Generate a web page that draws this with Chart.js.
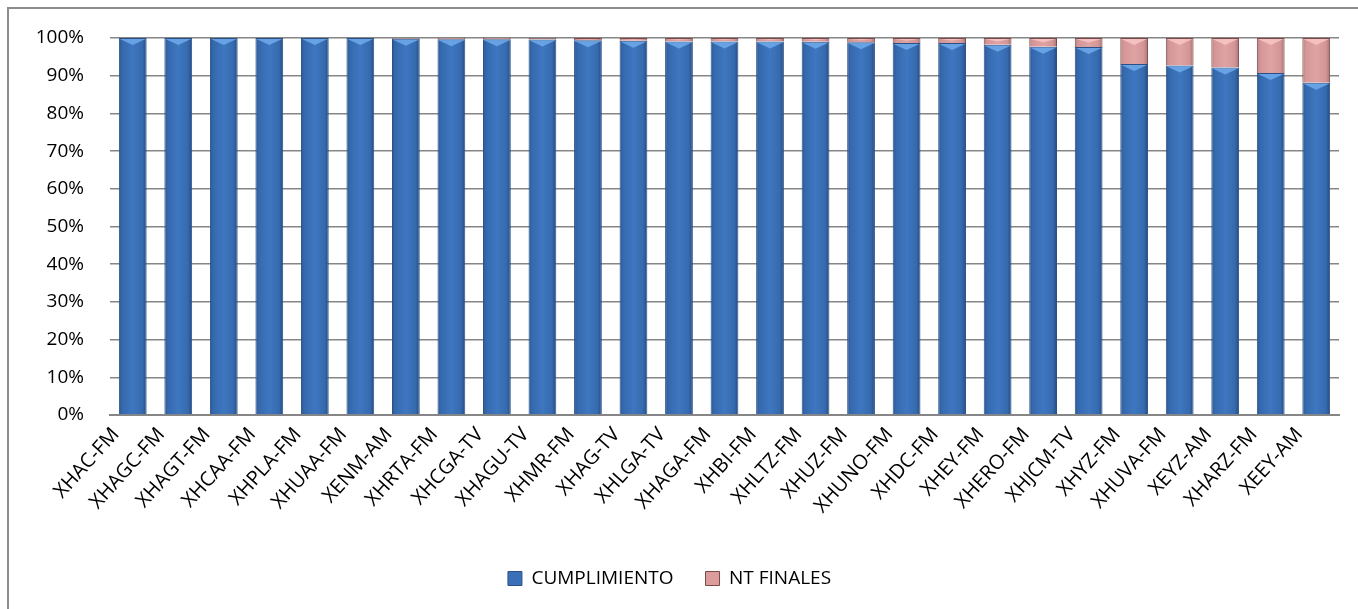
<!DOCTYPE html>
<html><head><meta charset="utf-8">
<script src="https://cdn.jsdelivr.net/npm/chart.js@4.4.1/dist/chart.umd.min.js"></script>
<style>
html,body{margin:0;padding:0;background:#fff;overflow:hidden;}
#wrap{position:absolute;left:7px;top:7px;width:1360px;height:620px;border-left:2px solid #8c8c8c;border-top:2px solid #8c8c8c;box-sizing:border-box;}
#c{position:absolute;left:0;top:0;}
</style></head><body>
<div id="wrap"></div>
<canvas id="c" width="1358" height="609"></canvas>
<script>
const categories = ["XHAC-FM","XHAGC-FM","XHAGT-FM","XHCAA-FM","XHPLA-FM","XHUAA-FM","XENM-AM","XHRTA-FM","XHCGA-TV","XHAGU-TV","XHMR-FM","XHAG-TV","XHLGA-TV","XHAGA-FM","XHBI-FM","XHLTZ-FM","XHUZ-FM","XHUNO-FM","XHDC-FM","XHEY-FM","XHERO-FM","XHJCM-TV","XHYZ-FM","XHUVA-FM","XEYZ-AM","XHARZ-FM","XEEY-AM"];
const cumplimiento = [100,100,100,100,100,100,99.8,99.7,99.7,99.6,99.4,99.3,99.1,99.1,99.1,99.0,98.9,98.7,98.7,98.2,97.7,97.6,93.1,92.7,92.2,90.7,88.1];
const ntFinales = [0,0,0,0,0,0,0.2,0.3,0.3,0.4,0.6,0.7,0.9,0.9,0.9,1.0,1.1,1.3,1.3,1.8,2.3,2.4,6.9,7.3,7.8,9.3,11.9];
const yTicks = [0,10,20,30,40,50,60,70,80,90,100];

const BAR_PCT = 0.61;
function barGrad(ctx, stops){
  const chart = ctx.chart, xs = chart.scales.x;
  if(!xs || ctx.type !== 'data' || !chart.chartArea) return stops[2][1];
  const cx = xs.getPixelForValue(ctx.dataIndex);
  const half = (xs.width / categories.length) * BAR_PCT / 2;
  const g = chart.ctx.createLinearGradient(cx - half, 0, cx + half, 0);
  stops.forEach(s => g.addColorStop(s[0], s[1]));
  return g;
}
const blueStops = [[0,'#2a5690'],[0.12,'#3569ad'],[0.5,'#3e77c0'],[0.85,'#366aae'],[1,'#234a80']];
const pinkStops = [[0,'#b98080'],[0.12,'#d49696'],[0.5,'#e0a3a3'],[0.85,'#d39595'],[1,'#a87171']];

// light pyramid facet on the top of each bar segment
const facetPlugin = {
  id:'facet',
  afterDatasetsDraw(chart){
    const c = chart.ctx;
    chart.data.datasets.forEach((ds, di) => {
      const meta = chart.getDatasetMeta(di);
      meta.data.forEach(el => {
        const p = el.getProps(['x','y','base','width'], true);
        const h = Math.abs(p.base - p.y);
        if (h < 2) return;
        const d = Math.min(7, h / 2);
        const l = p.x - p.width/2 + 1, r = p.x + p.width/2 - 1;
        c.save();
        c.beginPath();
        c.moveTo(l, p.y + 1); c.lineTo(r, p.y + 1); c.lineTo(p.x, p.y + d); c.closePath();
        c.fillStyle = di === 0 ? 'rgba(110,170,235,0.85)' : 'rgba(250,200,200,0.8)';
        c.fill();
        c.restore();
      });
    });
  }
};

const FONT = "'Open Sans', sans-serif";
new Chart(document.getElementById('c'), {
  type:'bar',
  data:{labels:categories, datasets:[
    {label:'CUMPLIMIENTO', data:cumplimiento, backgroundColor:c=>barGrad(c,blueStops), borderColor:'#2b5088', borderWidth:1, barPercentage:BAR_PCT, categoryPercentage:1},
    {label:'NT FINALES', data:ntFinales, backgroundColor:c=>barGrad(c,pinkStops), borderColor:'#7a4a4a', borderWidth:1, barPercentage:BAR_PCT, categoryPercentage:1}
  ]},
  options:{
    responsive:false, animation:false,
    layout:{padding:{left:0,right:19,top:38,bottom:11}},
    plugins:{
      legend:{position:'bottom', labels:{color:'#000', font:{family:FONT,size:19}, boxWidth:14, boxHeight:14, padding:32,
        generateLabels:(chart)=>chart.data.datasets.map((d,i)=>({text:d.label, fillStyle:i===0?'#3a70b8':'#dc9c9c', strokeStyle:i===0?'#2b5088':'#7a4a4a', lineWidth:1, datasetIndex:i, fontColor:'#000'}))}},
      tooltip:{enabled:false}
    },
    scales:{
      x:{stacked:true, grid:{display:false}, border:{color:'#868686', width:2},
         afterFit:(s)=>{s.height=122;},
         ticks:{color:'#000', font:{family:FONT,size:20}, minRotation:48, maxRotation:48, autoSkip:false, padding:0, labelOffset:-17}},
      y:{stacked:true, min:0, max:100, afterBuildTicks:(s)=>{s.ticks=yTicks.map(v=>({value:v}));},
         afterFit:(s)=>{s.width=110;},
         grid:{color:'#868686', lineWidth:1.5, drawTicks:false}, border:{display:false},
         ticks:{color:'#000', font:{family:FONT,size:19}, padding:26, callback:v=>v+'%'}}
    }
  },
  plugins:[facetPlugin]
});
</script></body></html>
